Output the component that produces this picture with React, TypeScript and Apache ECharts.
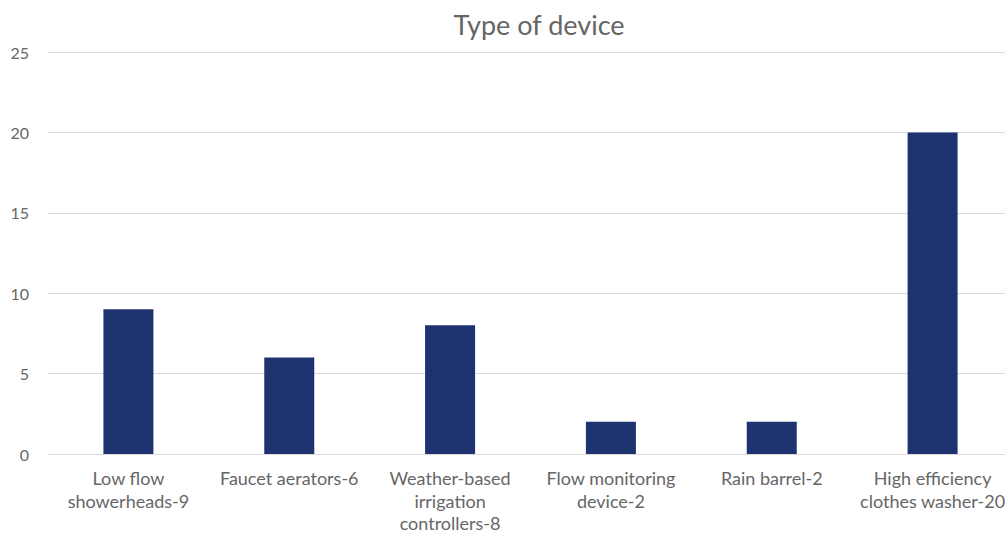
import React, { useEffect, useRef } from "react";
import * as echarts from "echarts";

const categories = [
  "Low flow showerheads-9",
  "Faucet aerators-6",
  "Weather-based irrigation controllers-8",
  "Flow monitoring device-2",
  "Rain barrel-2",
  "High efficiency clothes washer-20",
];
const categoryLabels = [
  "Low flow\nshowerheads-9",
  "Faucet aerators-6",
  "Weather-based\nirrigation\ncontrollers-8",
  "Flow monitoring\ndevice-2",
  "Rain barrel-2",
  "High efficiency\nclothes washer-20",
];
const values = [9, 6, 8, 2, 2, 20];

export default function App() {
  const ref = useRef<HTMLDivElement>(null);
  useEffect(() => {
    if (!ref.current) return;
    const chart = echarts.init(ref.current, null, { renderer: "svg" });
    const font = "Lato, 'Open Sans', sans-serif";
    const textColor = "#666666";
    chart.setOption({
      animation: false,
      title: {
        text: "Type of device",
        left: 534,
        top: 6,
        textAlign: "center",
        textStyle: { color: textColor, fontSize: 27, fontWeight: "normal", fontFamily: font },
      },
      grid: { left: 48, top: 52, width: 965, height: 402, outerBoundsMode: "none", containLabel: false },
      xAxis: {
        type: "category",
        data: categories,
        axisLine: { lineStyle: { color: "#d9d9d9", width: 1 } },
        axisTick: { show: false },
        axisLabel: {
          interval: 0,
          margin: 13,
          color: textColor,
          fontSize: 18,
          fontFamily: font,
          lineHeight: 22.5,
          formatter: (_v: string, i: number) => categoryLabels[i],
        },
      },
      yAxis: {
        type: "value",
        min: 0,
        max: 25,
        interval: 5,
        axisLine: { show: false },
        axisTick: { show: false },
        splitLine: { lineStyle: { color: "#d9d9d9", width: 1 } },
        axisLabel: { color: textColor, fontSize: 16, fontFamily: font, margin: 19 },
      },
      series: [
        {
          type: "bar",
          data: values,
          barWidth: 50,
          itemStyle: { color: "#1f3270" },
        },
      ],
    });
    return () => chart.dispose();
  }, []);
  return (
    <div
      ref={ref}
      style={{ position: "fixed", left: 0, top: 0, width: 1005, height: 533, background: "#fff" }}
    />
  );
}
